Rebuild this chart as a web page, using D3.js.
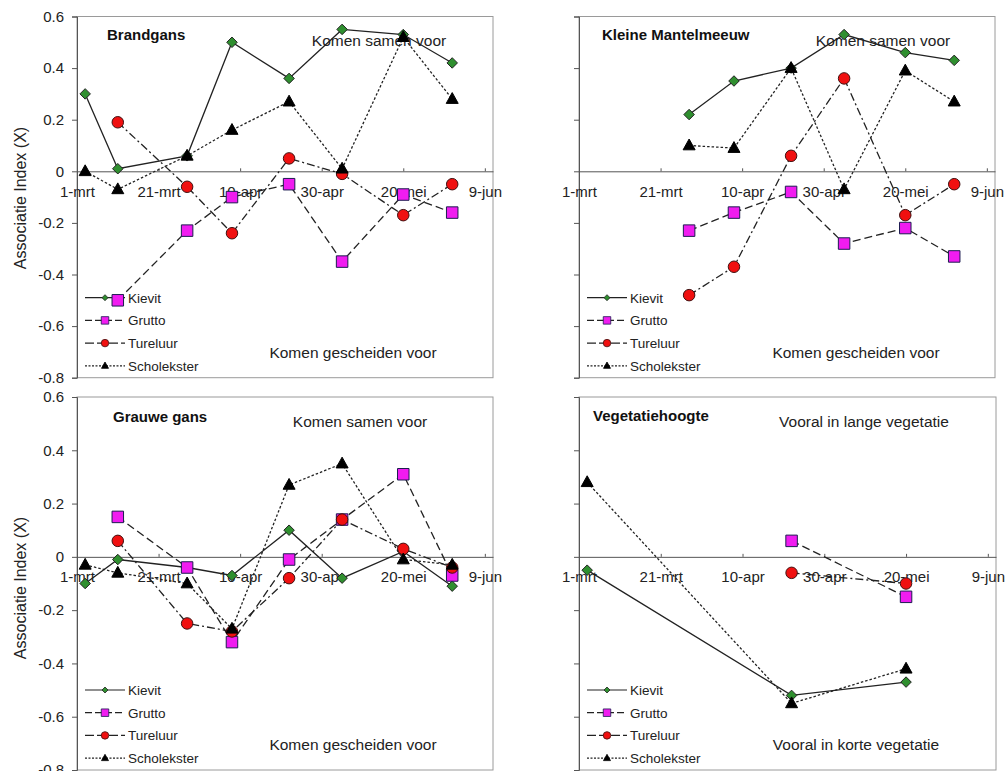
<!DOCTYPE html>
<html>
<head>
<meta charset="utf-8">
<script src="https://cdn.jsdelivr.net/npm/d3@7"></script>
<style>
  html, body { margin: 0; padding: 0; background: #fff; }
  svg { display: block; font-family: "Liberation Sans", Arial, sans-serif; }
</style>
</head>
<body>
<svg id="chart" width="1007" height="771"></svg>
<script>
// Survey dates (x positions) and axis ticks
const surveyDates = ["2009-03-03", "2009-03-11", "2009-03-28", "2009-04-08",
                     "2009-04-22", "2009-05-05", "2009-05-20", "2009-06-01"];
const xTickDates  = ["2009-03-01", "2009-03-21", "2009-04-10", "2009-04-30", "2009-05-20", "2009-06-09"];
const xTickLabels = ["1-mrt", "21-mrt", "10-apr", "30-apr", "20-mei", "9-jun"];
const xDomain     = ["2009-03-01", "2009-06-11"];
const yTicks      = [0.6, 0.4, 0.2, 0, -0.2, -0.4, -0.6, -0.8];
const yTickLabels = ["0.6", "0.4", "0.2", "0", "-0.2", "-0.4", "-0.6", "-0.8"];
const seriesNames = ["Kievit", "Grutto", "Tureluur", "Scholekster"];

// Association index per survey date (null = not counted)
const brandgansKievit      = [0.30, 0.01, 0.06, 0.50, 0.36, 0.55, 0.53, 0.42];
const brandgansGrutto      = [null, -0.50, -0.23, -0.10, -0.05, -0.35, -0.09, -0.16];
const brandgansTureluur    = [null, 0.19, -0.06, -0.24, 0.05, -0.01, -0.17, -0.05];
const brandgansScholekster = [0.00, -0.07, 0.06, 0.16, 0.27, 0.01, 0.52, 0.28];

const mantelmeeuwKievit      = [null, null, 0.22, 0.35, 0.40, 0.53, 0.46, 0.43];
const mantelmeeuwGrutto      = [null, null, -0.23, -0.16, -0.08, -0.28, -0.22, -0.33];
const mantelmeeuwTureluur    = [null, null, -0.48, -0.37, 0.06, 0.36, -0.17, -0.05];
const mantelmeeuwScholekster = [null, null, 0.10, 0.09, 0.40, -0.07, 0.39, 0.27];

const grauweGansKievit      = [-0.10, -0.01, -0.04, -0.07, 0.10, -0.08, 0.02, -0.11];
const grauweGansGrutto      = [null, 0.15, -0.04, -0.32, -0.01, 0.14, 0.31, -0.07];
const grauweGansTureluur    = [null, 0.06, -0.25, -0.28, -0.08, 0.14, 0.03, -0.04];
const grauweGansScholekster = [-0.03, -0.06, -0.10, -0.27, 0.27, 0.35, -0.01, -0.03];

const vegetatieKievit      = [-0.05, null, null, null, -0.52, null, -0.47, null];
const vegetatieGrutto      = [null, null, null, null, 0.06, null, -0.15, null];
const vegetatieTureluur    = [null, null, null, null, -0.06, null, -0.10, null];
const vegetatieScholekster = [0.28, null, null, null, -0.55, null, -0.42, null];

// Panel layout (annotation x values are centre offsets from the plot's left edge)
const panels = [
  { title: "Brandgans", upper: "Komen samen voor", lower: "Komen gescheiden voor",
    data: [brandgansKievit, brandgansGrutto, brandgansTureluur, brandgansScholekster],
    x0: 77, x1: 493, y0: 16.5, y1: 377.7, yLabels: true, axisTitleY: 198,
    titleX: 30, titleY: 40, upperX: 302, upperY: 46, lowerX: 276, lowerY: 358 },
  { title: "Kleine Mantelmeeuw", upper: "Komen samen voor", lower: "Komen gescheiden voor",
    data: [mantelmeeuwKievit, mantelmeeuwGrutto, mantelmeeuwTureluur, mantelmeeuwScholekster],
    x0: 579, x1: 995, y0: 16.5, y1: 377.7, yLabels: false,
    titleX: 23, titleY: 40, upperX: 304, upperY: 46, lowerX: 277, lowerY: 358 },
  { title: "Grauwe gans", upper: "Komen samen voor", lower: "Komen gescheiden voor",
    data: [grauweGansKievit, grauweGansGrutto, grauweGansTureluur, grauweGansScholekster],
    x0: 77, x1: 493, y0: 397, y1: 770, yLabels: true, axisTitleY: 588,
    titleX: 36, titleY: 422, upperX: 283, upperY: 427, lowerX: 276, lowerY: 750 },
  { title: "Vegetatiehoogte", upper: "Vooral in lange vegetatie", lower: "Vooral in korte vegetatie",
    data: [vegetatieKievit, vegetatieGrutto, vegetatieTureluur, vegetatieScholekster],
    x0: 579, x1: 996, y0: 397, y1: 770, yLabels: false,
    titleX: 14, titleY: 421, upperX: 285, upperY: 427, lowerX: 277, lowerY: 750 }
];

// Series styling
const styles = [
  { dash: null,        symbol: "diamond",  fill: "#2f8f2f", stroke: "#222",    size: 10.5, legendSize: 6,   legendDash: null },
  { dash: "8,4",       symbol: "square",   fill: "#f01cf0", stroke: "#1c1c50", size: 11.5, legendSize: 7.5, legendDash: "7,3" },
  { dash: "8,3,2,3",   symbol: "circle",   fill: "#f01010", stroke: "#401010", size: 11.5, legendSize: 7.5, legendDash: "9,3" },
  { dash: "2.5,2",     symbol: "triangle", fill: "#000",    stroke: "#000",    size: 12,   legendSize: 7,   legendDash: "2,1.5" }
];

const svg = d3.select("#chart");
const parse = d3.utcParse("%Y-%m-%d");

function markerPath(kind, s) {
  const h = s / 2;
  if (kind === "diamond") return `M0,${-h}L${h},0L0,${h}L${-h},0Z`;
  if (kind === "square") return `M${-h},${-h}H${h}V${h}H${-h}Z`;
  if (kind === "circle") return `M${h},0A${h},${h} 0 1,1 ${-h},0A${h},${h} 0 1,1 ${h},0Z`;
  const th = s * 0.9;
  return `M0,${-th * 0.6}L${h},${th * 0.4}L${-h},${th * 0.4}Z`;
}

panels.forEach(p => {
  const x = d3.scaleUtc().domain(xDomain.map(parse)).range([p.x0, p.x1]);
  const y = d3.scaleLinear().domain([0.6, -0.8]).range([p.y0, p.y1]);
  const g = svg.append("g");

  // Plot frame
  g.append("rect")
    .attr("x", p.x0).attr("y", p.y0)
    .attr("width", p.x1 - p.x0).attr("height", p.y1 - p.y0)
    .attr("fill", "none").attr("stroke", "#9a9a9a").attr("stroke-width", 1);

  // Y axis
  const yAxis = d3.axisLeft(y).tickValues(yTicks).tickSize(5).tickPadding(8)
    .tickFormat((d, i) => p.yLabels ? yTickLabels[i] : "");
  const ya = g.append("g").attr("transform", `translate(${p.x0},0)`).call(yAxis);
  ya.select(".domain").attr("stroke", "#555");
  ya.selectAll(".tick line").attr("stroke", "#555");
  ya.selectAll("text").attr("font-size", 15).attr("fill", "#222")
    .attr("font-family", "Liberation Sans, Arial, sans-serif");

  if (p.yLabels) {
    g.append("text")
      .attr("transform", `translate(26,${p.axisTitleY}) rotate(-90)`)
      .attr("text-anchor", "middle").attr("font-size", 16).attr("fill", "#222")
      .text("Associatie Index (X)");
  }

  // X axis on the zero line, ticks pointing up
  const xAxis = d3.axisBottom(x).tickValues(xTickDates.map(parse)).tickSize(-3).tickPadding(15)
    .tickFormat((d, i) => xTickLabels[i]).tickSizeOuter(0);
  const xa = g.append("g").attr("transform", `translate(0,${y(0)})`).call(xAxis);
  xa.select(".domain").attr("stroke", "#555");
  xa.selectAll(".tick line").attr("stroke", "#555");
  xa.selectAll("text").attr("font-size", 15).attr("fill", "#222")
    .attr("font-family", "Liberation Sans, Arial, sans-serif");

  // Panel title and annotations
  g.append("text").attr("x", p.x0 + p.titleX).attr("y", p.titleY)
    .attr("font-size", 15).attr("font-weight", "bold").attr("fill", "#111").text(p.title);
  g.append("text").attr("x", p.x0 + p.upperX).attr("y", p.upperY)
    .attr("text-anchor", "middle")
    .attr("font-size", 15.5).attr("fill", "#222").text(p.upper);
  g.append("text").attr("x", p.x0 + p.lowerX).attr("y", p.lowerY)
    .attr("text-anchor", "middle")
    .attr("font-size", 15.5).attr("fill", "#222").text(p.lower);

  // Legend
  const legendTop = p.y1 - 80;
  seriesNames.forEach((name, i) => {
    const st = styles[i];
    const ly = legendTop + i * 22.7;
    const lg = g.append("g");
    lg.append("line").attr("x1", p.x0 + 8).attr("x2", p.x0 + 48)
      .attr("y1", ly).attr("y2", ly)
      .attr("stroke", "#222").attr("stroke-width", 1.2)
      .attr("stroke-dasharray", st.legendDash);
    lg.append("path").attr("d", markerPath(st.symbol, st.legendSize))
      .attr("transform", `translate(${p.x0 + 28},${ly})`)
      .attr("fill", st.fill).attr("stroke", st.stroke).attr("stroke-width", 0.8);
    lg.append("text").attr("x", p.x0 + 51).attr("y", ly + 5)
      .attr("font-size", 13.5).attr("fill", "#222").text(name);
  });

  // Series lines and markers
  p.data.forEach((vals, i) => {
    const st = styles[i];
    const pts = vals.map((v, k) => ({ date: parse(surveyDates[k]), v }))
      .filter(d => d.v !== null);
    const line = d3.line().x(d => x(d.date)).y(d => y(d.v));
    g.append("path").datum(pts).attr("d", line)
      .attr("fill", "none").attr("stroke", "#222").attr("stroke-width", 1.3)
      .attr("stroke-dasharray", st.dash);
    g.append("g").selectAll("path").data(pts).join("path")
      .attr("d", markerPath(st.symbol, st.size))
      .attr("transform", d => `translate(${x(d.date)},${y(d.v)})`)
      .attr("fill", st.fill).attr("stroke", st.stroke).attr("stroke-width", 1);
  });
});
</script>
</body>
</html>
